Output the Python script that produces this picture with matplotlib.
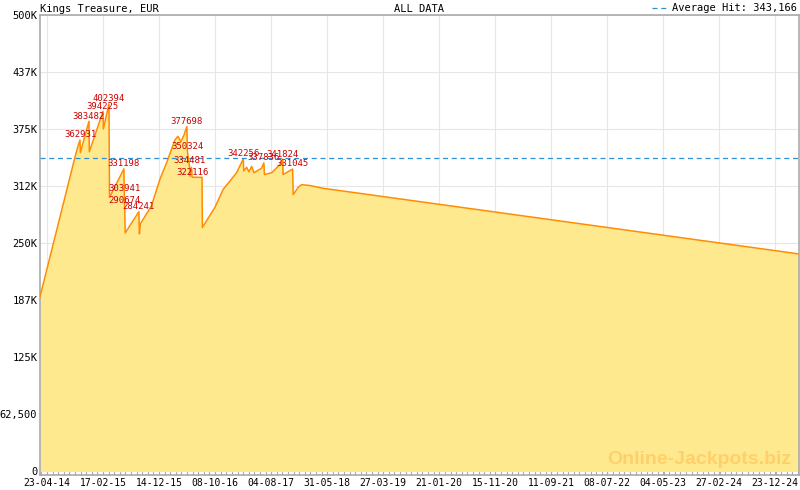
# plot.py
# Jackpot history for Kings Treasure (EUR), all data

import pandas as pd
import matplotlib
matplotlib.use("Agg")
import matplotlib.pyplot as plt
import matplotlib.dates as mdates
from matplotlib import ticker

# jackpot value over time
dates = [
    "2014-03-17", "2014-09-20", "2014-10-06", "2014-10-17", "2014-10-19",
    "2014-12-04", "2014-12-06", "2015-02-17", "2015-02-19", "2015-03-21",
    "2015-03-24", "2015-06-09", "2015-06-11", "2015-06-13", "2015-06-16",
    "2015-08-28", "2015-08-31", "2015-09-05", "2015-11-04", "2015-12-19",
    "2016-01-24", "2016-03-08", "2016-03-24", "2016-04-09", "2016-04-25",
    "2016-05-11", "2016-05-14", "2016-05-25", "2016-05-27", "2016-06-05",
    "2016-06-08", "2016-07-31", "2016-08-02", "2016-10-08", "2016-11-22",
    "2016-12-28", "2017-02-01", "2017-03-09", "2017-03-11", "2017-03-27",
    "2017-04-08", "2017-04-23", "2017-05-05", "2017-06-15", "2017-06-27",
    "2017-06-30", "2017-08-08", "2017-09-21", "2017-10-06", "2017-10-08",
    "2017-11-28", "2017-12-01", "2017-12-28", "2018-01-15", "2018-03-01",
    "2018-05-09", "2025-04-30",
]
values = [
    191000, 344000, 356000, 362931, 349000,
    383482, 350000, 394225, 375000, 402394,
    300000, 331198, 303941, 290674, 261000,
    284241, 260000, 271000, 291000, 320000,
    338000, 363000, 367000, 361000, 368000,
    377698, 350324, 334481, 323000, 333000,
    322116, 322000, 267000, 289000, 309000,
    318000, 327000, 342256, 329000, 333000,
    328000, 334000, 327000, 332000, 337836,
    325000, 327000, 336000, 341824, 325000,
    331045, 303000, 311000, 314000, 313000,
    310000, 238000,
]

# labelled hits
hit_dates = [
    "2014-10-17", "2014-12-04", "2015-02-17", "2015-03-21", "2015-06-09",
    "2015-06-11", "2015-06-13", "2015-08-28", "2016-05-11", "2016-05-14",
    "2016-05-25", "2016-06-08", "2017-03-09", "2017-06-27", "2017-10-06",
    "2017-11-28",
]
hit_values = [
    362931, 383482, 394225, 402394, 331198,
    303941, 290674, 284241, 377698, 350324,
    334481, 322116, 342256, 337836, 341824,
    331045,
]
average_hit = 343166

x_tick_dates = [
    "2014-04-23", "2015-02-17", "2015-12-14", "2016-10-08", "2017-08-04",
    "2018-05-31", "2019-03-27", "2020-01-21", "2020-11-15", "2021-09-11",
    "2022-07-08", "2023-05-04", "2024-02-27", "2024-12-23",
]
y_ticks = [0, 62500, 125000, 187500, 250000, 312500, 375000, 437500, 500000]
y_tick_labels = ["0", "62,500", "125K", "187K", "250K", "312K", "375K", "437K", "500K"]

FILL = "#ffe98f"
LINE = "#ff8c00"
LABEL_RED = "#cc0000"
AVG_BLUE = "#2f8fd0"
GRID = "#e6e6e6"
SPINE = "#aaaaaa"


def main():
    plt.rcParams["font.family"] = ["DejaVu Sans Mono"]
    plt.rcParams["font.size"] = 7.5

    x = pd.to_datetime(dates)
    hx = pd.to_datetime(hit_dates)
    ticks_x = mdates.date2num(pd.to_datetime(x_tick_dates).to_pydatetime())

    fig = plt.figure(figsize=(8, 4.9), dpi=100)
    ax = fig.add_axes([40 / 800, 15 / 490, 759 / 800, 460 / 490])

    ax.fill_between(x, values, 0, color=FILL, linewidth=0, zorder=1)
    ax.plot(x, values, color=LINE, linewidth=1.1, zorder=3)
    ax.axhline(average_hit, color=AVG_BLUE, linestyle=(0, (4, 3)), linewidth=0.9,
               zorder=4, label=f"Average Hit: {average_hit:,}")

    for d, v in zip(hx, hit_values):
        ax.annotate(str(v), (d, v), xytext=(0, 0.5), textcoords="offset points",
                    ha="center", va="bottom", color=LABEL_RED, fontsize=6.5, zorder=5)

    ax.set_xlim(x[0], x[-1])
    ax.set_ylim(-4400, 500000)

    ax.xaxis.set_major_locator(ticker.FixedLocator(ticks_x))
    ax.xaxis.set_major_formatter(mdates.DateFormatter("%d-%m-%y"))
    ax.xaxis.set_minor_locator(ticker.AutoMinorLocator(10))
    ax.yaxis.set_major_locator(ticker.FixedLocator(y_ticks))
    ax.yaxis.set_major_formatter(ticker.FixedFormatter(y_tick_labels))

    ax.tick_params(axis="x", which="major", direction="in", length=6, width=0.8,
                   color=SPINE, pad=2, labelsize=7)
    ax.tick_params(axis="x", which="minor", direction="in", length=3.5, width=0.8,
                   color=SPINE)
    ax.tick_params(axis="y", length=0, pad=2)
    ax.grid(True, which="major", color=GRID, linewidth=0.8, zorder=0)
    ax.set_axisbelow(True)

    for spine in ax.spines.values():
        spine.set_color(SPINE)
        spine.set_linewidth(1.2)

    ax.set_title("Kings Treasure, EUR", loc="left", fontsize=7.5, pad=2)
    ax.set_title("ALL DATA", loc="center", fontsize=7.5, pad=2)
    ax.legend(loc="lower right", bbox_to_anchor=(1.0, 1.0), frameon=False,
              fontsize=7.5, handlelength=1.6, handletextpad=0.4, borderpad=0,
              borderaxespad=0.15)

    ax.text(0.99, 0.015, "Online-Jackpots.biz", transform=ax.transAxes, ha="right",
            va="bottom", fontsize=14, fontweight="bold", family="Liberation Sans",
            color="#ffcf6a", zorder=2)

    fig.savefig("out.png", dpi=100)


if __name__ == "__main__":
    main()
